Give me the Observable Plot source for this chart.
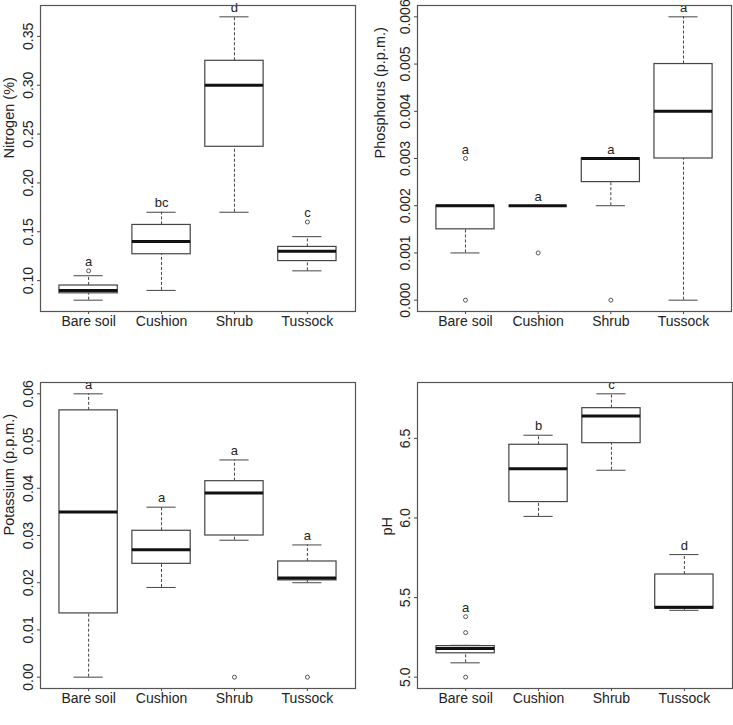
<!DOCTYPE html>
<html>
<head>
<meta charset="utf-8">
<script src="https://cdn.jsdelivr.net/npm/d3@7"></script>
<script src="https://cdn.jsdelivr.net/npm/@observablehq/plot@0.6"></script>
<style>
  body { margin: 0; background: #fff; }
  #wrap { position: relative; width: 733px; height: 725px; background: #fff; font-family: "Liberation Sans", Arial, sans-serif; }
  .panel { position: absolute; }
</style>
</head>
<body>
<div id="wrap"></div>
<script>
const groups = ["Bare soil", "Cushion", "Shrub", "Tussock"];

// Nitrogen (%)
const nLow  = [0.080, 0.090, 0.170, 0.110];
const nQ1   = [0.087, 0.127, 0.237, 0.120];
const nMed  = [0.090, 0.140, 0.300, 0.130];
const nQ3   = [0.095, 0.157, 0.325, 0.1345];
const nHigh = [0.105, 0.170, 0.370, 0.145];
const nOut  = [[0.110], [], [], [0.160]];
const nLetters = ["a", "bc", "d", "c"];
const nTicks = [0.10, 0.15, 0.20, 0.25, 0.30, 0.35];

// Phosphorus (p.p.m.)
const pLow  = [0.0010, 0.0020, 0.0020, 0.0000];
const pQ1   = [0.0015, 0.0020, 0.0025, 0.0030];
const pMed  = [0.0020, 0.0020, 0.0030, 0.0040];
const pQ3   = [0.0020, 0.0020, 0.0030, 0.0050];
const pHigh = [0.0020, 0.0020, 0.0030, 0.0060];
const pOut  = [[0.000, 0.003], [0.001], [0.000], []];
const pLetters = ["a", "a", "a", "a"];
const pTicks = [0, 0.001, 0.002, 0.003, 0.004, 0.005, 0.006];

// Potassium (p.p.m.)
const kLow  = [0.000, 0.019, 0.029, 0.020];
const kQ1   = [0.0135, 0.024, 0.030, 0.0205];
const kMed  = [0.035, 0.027, 0.039, 0.021];
const kQ3   = [0.0565, 0.031, 0.0415, 0.0245];
const kHigh = [0.060, 0.036, 0.046, 0.028];
const kOut  = [[], [], [0.000], [0.000]];
const kLetters = ["a", "a", "a", "a"];
const kTicks = [0, 0.01, 0.02, 0.03, 0.04, 0.05, 0.06];

// pH
const hLow  = [5.09, 6.01, 6.30, 5.42];
const hQ1   = [5.15, 6.10, 6.47, 5.43];
const hMed  = [5.18, 6.31, 6.64, 5.44];
const hQ3   = [5.195, 6.46, 6.69, 5.645];
const hHigh = [5.20, 6.52, 6.78, 5.77];
const hOut  = [[5.00, 5.28, 5.38], [], [], []];
const hLetters = ["a", "b", "c", "d"];
const hTicks = [5.0, 5.5, 6.0, 6.5];

const STROKE = "#444";

function panel(cfg) {
  const rows = groups.map((g, i) => ({
    g, x: i + 1,
    low: cfg.low[i], q1: cfg.q1[i], med: cfg.med[i], q3: cfg.q3[i], high: cfg.high[i],
    top: Math.max(cfg.high[i], ...cfg.out[i]),
    letter: cfg.letters[i]
  }));
  const outs = [];
  cfg.out.forEach((arr, i) => arr.forEach(v => outs.push({x: i + 1, v})));
  const all = [...cfg.low, ...cfg.high, ...cfg.out.flat()];
  const lo = d3.min(all), hi = d3.max(all), pad = (hi - lo) * 0.04;
  return Plot.plot({
    width: cfg.width, height: cfg.height,
    marginLeft: cfg.ml, marginRight: cfg.mr, marginTop: cfg.mt, marginBottom: cfg.mb,
    style: {fontFamily: "Liberation Sans, Arial, sans-serif", fontSize: "14px", color: "#222", background: "white", overflow: "visible"},
    x: {domain: [0.34, 4.66]},
    y: {domain: [lo - pad, hi + pad]},
    marks: [
      Plot.axisY({ticks: cfg.ticks, tickFormat: d3.format(cfg.fmt), tickRotate: -90, tickSize: 3, tickPadding: 5, label: null, stroke: STROKE, fontSize: 14}),
      Plot.axisX({ticks: [1, 2, 3, 4], tickFormat: d => groups[d - 1], tickSize: 3, tickPadding: 2, label: null, stroke: STROKE, fontSize: 14}),
      Plot.text([cfg.title], {frameAnchor: "left", rotate: -90, dx: cfg.titleDx, text: d => d, fontSize: 14.5}),
      // whiskers
      Plot.ruleX(rows, {x: "x", y1: "q3", y2: "high", stroke: STROKE, strokeDasharray: "3,2"}),
      Plot.ruleX(rows, {x: "x", y1: "low", y2: "q1", stroke: STROKE, strokeDasharray: "3,2"}),
      // staples
      Plot.ruleY(rows, {y: "high", x1: d => d.x - 0.2, x2: d => d.x + 0.2, stroke: STROKE}),
      Plot.ruleY(rows, {y: "low", x1: d => d.x - 0.2, x2: d => d.x + 0.2, stroke: STROKE}),
      // boxes
      Plot.rect(rows, {x1: d => d.x - 0.4, x2: d => d.x + 0.4, y1: "q1", y2: "q3", fill: "white", stroke: STROKE, strokeWidth: 1.2}),
      // medians
      Plot.ruleY(rows, {y: "med", x1: d => d.x - 0.4, x2: d => d.x + 0.4, stroke: "#111", strokeWidth: 3}),
      // outliers
      Plot.dot(outs, {x: "x", y: "v", r: 2, stroke: STROKE, strokeWidth: 0.9, fill: "none"}),
      // letters
      Plot.text(rows, {x: "x", y: "top", text: "letter", dy: -9, fontSize: 13, fill: "#222"}),
      Plot.frame({stroke: "#555", strokeWidth: 1.2})
    ]
  });
}

const layouts = [
  {left: 0,   top: 0,   width: 366, height: 360, ml: 40, mr: 11, mt: 5,  mb: 49, title: "Nitrogen (%)", titleDx: -31,
   low: nLow, q1: nQ1, med: nMed, q3: nQ3, high: nHigh, out: nOut, letters: nLetters, ticks: nTicks, fmt: ".2f"},
  {left: 366, top: 0,   width: 367, height: 360, ml: 51, mr: 2,  mt: 5,  mb: 49, title: "Phosphorus (p.p.m.)", titleDx: -37,
   low: pLow, q1: pQ1, med: pMed, q3: pQ3, high: pHigh, out: pOut, letters: pLetters, ticks: pTicks, fmt: ".3f"},
  {left: 0,   top: 360, width: 366, height: 365, ml: 40, mr: 11, mt: 22, mb: 37, title: "Potassium (p.p.m.)", titleDx: -31,
   low: kLow, q1: kQ1, med: kMed, q3: kQ3, high: kHigh, out: kOut, letters: kLetters, ticks: kTicks, fmt: ".2f"},
  {left: 366, top: 360, width: 367, height: 365, ml: 51, mr: 1,  mt: 22, mb: 37, title: "pH", titleDx: -30,
   low: hLow, q1: hQ1, med: hMed, q3: hQ3, high: hHigh, out: hOut, letters: hLetters, ticks: hTicks, fmt: ".1f"}
];

const wrap = document.getElementById("wrap");
for (const L of layouts) {
  const div = document.createElement("div");
  div.className = "panel";
  div.style.left = L.left + "px";
  div.style.top = L.top + "px";
  div.appendChild(panel(L));
  wrap.appendChild(div);
}
</script>
</body>
</html>
